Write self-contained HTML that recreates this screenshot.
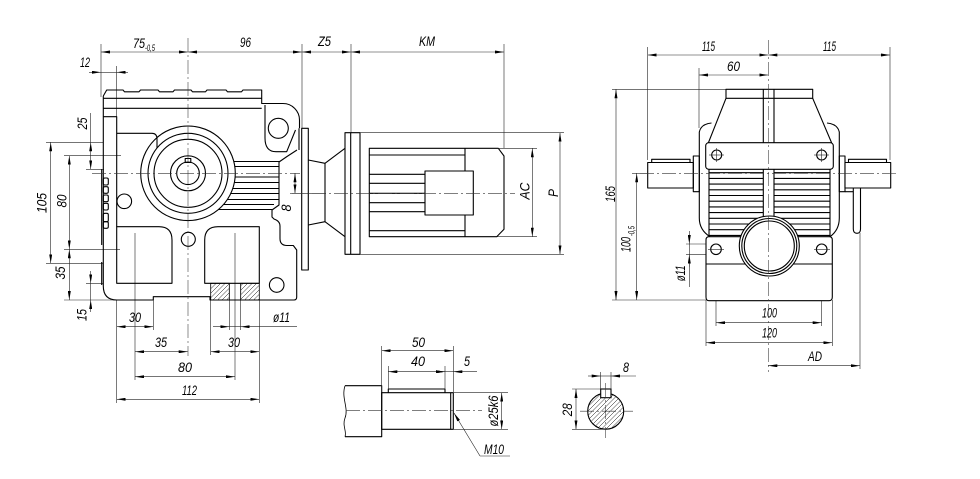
<!DOCTYPE html>
<html><head><meta charset="utf-8">
<style>
html,body{margin:0;padding:0;background:#fff;}
svg{display:block;}
.m{stroke:#000;stroke-width:1.1;fill:none;stroke-linejoin:round}
.wf{fill:#fff}
.t{stroke:#222;stroke-width:0.6;fill:none}
.c{stroke:#333;stroke-width:0.55;fill:none;stroke-dasharray:14 3 2 3}
.d{stroke:#222;stroke-width:0.6;fill:none;marker-start:url(#a);marker-end:url(#a)}
.e{stroke:#222;stroke-width:0.6;fill:none;marker-end:url(#a)}
text{font-family:"Liberation Sans",sans-serif;font-style:italic;font-size:14px;fill:#000}
.s{font-size:9px}
</style></head>
<body>
<svg width="980" height="479" viewBox="0 0 980 479" xmlns="http://www.w3.org/2000/svg">
<defs>
<marker id="a" viewBox="0 0 9 3" refX="9" refY="1.5" markerWidth="9" markerHeight="3" markerUnits="userSpaceOnUse" orient="auto-start-reverse"><path d="M0,0 L9,1.5 L0,3z" fill="#000"/></marker>
<pattern id="h" patternUnits="userSpaceOnUse" width="4.5" height="4.5"><path d="M-1,5.5 L5.5,-1" stroke="#000" stroke-width="0.5"/></pattern>
</defs>

<!-- ================= LEFT VIEW ================= -->
<!-- top dimension chain -->
<line class="d" x1="101" y1="52" x2="188" y2="52"/>
<line class="d" x1="188" y1="52" x2="302" y2="52"/>
<line class="d" x1="302" y1="52" x2="351" y2="52"/>
<line class="d" x1="351" y1="52" x2="504" y2="52"/>
<g class="t">
<line x1="101" y1="44" x2="101" y2="97"/>
<line x1="302" y1="44" x2="302" y2="128"/>
<line x1="351" y1="44" x2="351" y2="133"/>
<line x1="504" y1="44" x2="504" y2="148"/>
<line x1="116.7" y1="66" x2="116.7" y2="116.7"/>
<line x1="101" y1="72.3" x2="116.7" y2="72.3"/>
</g>
<line class="e" x1="89" y1="72.3" x2="101" y2="72.3"/>
<line class="e" x1="128" y1="72.3" x2="116.7" y2="72.3"/>
<text x="133" y="48" textLength="12" lengthAdjust="spacingAndGlyphs">75</text>
<text class="s" x="145" y="51" textLength="10" lengthAdjust="spacingAndGlyphs">-0,5</text>
<text x="240" y="47" textLength="11" lengthAdjust="spacingAndGlyphs">96</text>
<text x="318" y="46" textLength="13" lengthAdjust="spacingAndGlyphs">Z5</text>
<text x="419" y="46" textLength="16" lengthAdjust="spacingAndGlyphs">KM</text>
<text x="80" y="67" textLength="10" lengthAdjust="spacingAndGlyphs">12</text>

<!-- left vertical dims -->
<g class="t">
<line x1="46" y1="142.3" x2="103" y2="142.3"/>
<line x1="64" y1="155.7" x2="121" y2="155.7"/>
<line x1="86" y1="169.3" x2="104" y2="169.3"/>
<line x1="64" y1="249.3" x2="120" y2="249.3"/>
<line x1="46" y1="263.3" x2="103" y2="263.3"/>
<line x1="86" y1="283.3" x2="103" y2="283.3"/>
<line x1="64" y1="300" x2="117" y2="300"/>
<line x1="90.7" y1="113" x2="90.7" y2="142.3"/>
<line x1="90.7" y1="283.3" x2="90.7" y2="300"/>
</g>
<line class="d" x1="50.7" y1="142.3" x2="50.7" y2="263.3"/>
<line class="d" x1="69.3" y1="155.7" x2="69.3" y2="249.3"/>
<line class="d" x1="69.3" y1="249.3" x2="69.3" y2="300"/>
<line class="d" x1="90.7" y1="142.3" x2="90.7" y2="169.3"/>
<line class="e" x1="90.7" y1="271" x2="90.7" y2="283.3"/>
<line class="e" x1="90.7" y1="312" x2="90.7" y2="300"/>
<text transform="translate(46.5,203) rotate(-90)" text-anchor="middle" textLength="20" lengthAdjust="spacingAndGlyphs">105</text>
<text transform="translate(66.5,201) rotate(-90)" text-anchor="middle" textLength="13" lengthAdjust="spacingAndGlyphs">80</text>
<text transform="translate(87,123.5) rotate(-90)" text-anchor="middle" textLength="12" lengthAdjust="spacingAndGlyphs">25</text>
<text transform="translate(65,273) rotate(-90)" text-anchor="middle" textLength="13" lengthAdjust="spacingAndGlyphs">35</text>
<text transform="translate(86.3,315) rotate(-90)" text-anchor="middle" textLength="12" lengthAdjust="spacingAndGlyphs">15</text>

<!-- bottom dims -->
<g class="t">
<line x1="116.7" y1="300" x2="116.7" y2="403"/>
<line x1="135" y1="233" x2="135" y2="380"/>
<line x1="153.3" y1="300" x2="153.3" y2="330"/>
<line x1="210.7" y1="300" x2="210.7" y2="355"/>
<line x1="229.3" y1="283" x2="229.3" y2="330"/>
<line x1="240.7" y1="283" x2="240.7" y2="330"/>
<line x1="235" y1="233" x2="235" y2="380"/>
<line x1="259.3" y1="300" x2="259.3" y2="403"/>
<line x1="229.3" y1="326.7" x2="240.7" y2="326.7"/>
</g>
<line class="d" x1="116.7" y1="326.7" x2="153.3" y2="326.7"/>
<line class="d" x1="135" y1="351.7" x2="187.7" y2="351.7"/>
<line class="d" x1="210.7" y1="351.7" x2="259.3" y2="351.7"/>
<line class="d" x1="135" y1="376.7" x2="235" y2="376.7"/>
<line class="d" x1="116.7" y1="399.3" x2="259.3" y2="399.3"/>
<line class="e" x1="213" y1="326.7" x2="229.3" y2="326.7"/>
<line class="e" x1="297" y1="326.7" x2="240.7" y2="326.7"/>
<text x="129" y="322" textLength="12" lengthAdjust="spacingAndGlyphs">30</text>
<text x="155" y="347" textLength="12" lengthAdjust="spacingAndGlyphs">35</text>
<text x="228" y="347" textLength="12" lengthAdjust="spacingAndGlyphs">30</text>
<text x="178" y="372" textLength="14" lengthAdjust="spacingAndGlyphs">80</text>
<text x="182" y="395" textLength="15" lengthAdjust="spacingAndGlyphs">112</text>
<text x="273" y="322" textLength="17" lengthAdjust="spacingAndGlyphs">ø11</text>

<!-- body -->
<g class="m">
<path d="M103.3,96 L106.7,90 H123 L124.5,91.8 H139 L140.5,90 H158 L159.5,91.8 H173 L174.5,90 H191 L192.5,91.8 H205.5 L207,90 H226 L227.5,91.8 H241.5 L243,90 H261.7 V103.5 H283 A16.5,16.5 0 0 1 299.5,120 V128.3"/>
<path d="M103.3,96 V286 Q103.3,300 117,300 H153.3 V296.7 H210 V300 H294 Q296.7,300 296.7,297 V250 L293.3,245.5 H287 Q280,245.5 280,238.5 V226 Q280,221 274,219 L272,217 V210 L279,205 V162 L287,156.5 L297,150"/>
<path d="M103.3,98.3 H261.7 M103.3,108.3 H261.7"/>
<path d="M103.3,116.7 H116.7 V226.7"/>
<path d="M116.7,133.3 H152 Q157,133.3 157,139 V148"/>
<path d="M265,105 V138 Q265,151.7 276,151.7 H286.7 L295.5,130"/>
<path d="M299,128.3 V150"/>
<circle cx="278.3" cy="128.3" r="10"/>
<rect x="301.7" y="128.3" width="6.6" height="141.7"/>
<line x1="101.7" y1="169.3" x2="101.7" y2="245"/>
<line x1="101.7" y1="262" x2="101.7" y2="285"/>
<rect x="103.3" y="178" width="5" height="7" rx="1.5"/>
<rect x="103.3" y="186.7" width="5" height="6.6" rx="1.5"/>
<rect x="103.3" y="195" width="5" height="6.7" rx="1.5"/>
<rect x="103.3" y="203.3" width="5" height="6.7" rx="1.5"/>
<rect x="103.3" y="213.3" width="5" height="8.4" rx="1.5"/>
<rect x="103.3" y="221.7" width="5" height="6.6" rx="1.5"/>
<!-- fins -->
<path d="M233.8,161.5 H280 M234.8,166.5 H279 M235.2,177 H279 M234.4,182.5 H279 M232.8,188.5 H279 M230.8,193.5 H279 M227.4,199.5 H279 M223.5,204.5 H274 M218.4,209.5 H272"/>
<!-- gear circles -->
<circle cx="188" cy="173.3" r="47.3"/>
<circle cx="188" cy="173.3" r="40"/>
<circle cx="188" cy="173.3" r="34"/>
<circle cx="188" cy="173.3" r="17.5"/>
<circle cx="188" cy="173.3" r="11.3"/>
<rect x="185.2" y="158.5" width="5.6" height="4"/>
<circle cx="124.3" cy="201.3" r="7.3"/>
<circle cx="188.3" cy="239.3" r="7"/>
<circle cx="276.7" cy="285" r="7.3"/>
<!-- pockets -->
<path d="M116.7,226.7 H159 Q172,226.7 172,240 V283.3 H116.7 Z"/>
<path d="M218,226.7 H259.3 V283.3 H204.7 V240 Q204.7,226.7 218,226.7 Z"/>
</g>
<rect x="210.7" y="283.3" width="18.6" height="16.7" fill="url(#h)" stroke="#000" stroke-width="0.8"/>
<rect x="240.7" y="283.3" width="18.6" height="16.7" fill="url(#h)" stroke="#000" stroke-width="0.8"/>
<line class="c" x1="188" y1="38" x2="188" y2="356"/>
<line class="c" x1="92" y1="173.3" x2="300" y2="173.3"/>

<!-- 8 offset dim -->
<line class="d" x1="295" y1="173.3" x2="295" y2="193.3"/>
<line class="t" x1="292" y1="193.3" x2="326" y2="193.3"/>
<text transform="translate(290.8,208) rotate(-90)" text-anchor="middle" textLength="7" lengthAdjust="spacingAndGlyphs">8</text>

<!-- neck -->
<g class="m">
<path d="M308.3,160 L325,163.3 L345,148.3"/>
<path d="M308.3,225 L325,221.7 L345,236.7"/>
<line x1="325" y1="163.3" x2="325" y2="221.7"/>
<rect x="345" y="132.7" width="15" height="121.6"/>
<line x1="350.7" y1="132.7" x2="350.7" y2="254.3"/>
<!-- motor -->
<path d="M369.3,148.3 H498.3 L504,156 V229.3 L496.7,236.7 H369.3 Z"/>
<path d="M369.3,155 H465 M369.3,230.7 H465 M465,148.3 V171 M465,215 V236.7"/>
<rect x="425" y="171" width="48.3" height="44"/>
<path d="M369.3,174.3 H425 M369.3,183.3 H425 M369.3,193.3 H425 M369.3,202.7 H425 M369.3,211.7 H425"/>
</g>
<line class="c" x1="290" y1="193.3" x2="515" y2="193.3"/>
<g class="t">
<line x1="360" y1="132.7" x2="564" y2="132.7"/>
<line x1="360" y1="254.3" x2="564" y2="254.3"/>
<line x1="498" y1="148.3" x2="537" y2="148.3"/>
<line x1="497" y1="236.7" x2="537" y2="236.7"/>
</g>
<line class="d" x1="560" y1="132.7" x2="560" y2="254.3"/>
<line class="d" x1="532.3" y1="148.3" x2="532.3" y2="236.7"/>
<text transform="translate(529.7,191) rotate(-90)" text-anchor="middle" textLength="17" lengthAdjust="spacingAndGlyphs">AC</text>
<text transform="translate(558,193) rotate(-90)" text-anchor="middle" textLength="8" lengthAdjust="spacingAndGlyphs">P</text>

<!-- ================= RIGHT VIEW ================= -->
<line class="d" x1="647.7" y1="55" x2="768.3" y2="55"/>
<line class="d" x1="768.3" y1="55" x2="890" y2="55"/>
<line class="d" x1="699" y1="75" x2="768.3" y2="75"/>
<g class="t">
<line x1="647.7" y1="47" x2="647.7" y2="160"/>
<line x1="699" y1="68" x2="699" y2="128"/>
<line x1="890" y1="47" x2="890" y2="160"/>
<line x1="612" y1="89.3" x2="726" y2="89.3"/>
<line x1="612" y1="300" x2="706" y2="300"/>
<line x1="632" y1="173.3" x2="648" y2="173.3"/>
<line x1="686" y1="244" x2="716" y2="244"/>
<line x1="686" y1="254.6" x2="716" y2="254.6"/>
<line x1="689.3" y1="244" x2="689.3" y2="287"/>
<line x1="716" y1="250" x2="716" y2="326"/>
<line x1="821.7" y1="250" x2="821.7" y2="326"/>
<line x1="706" y1="300" x2="706" y2="346"/>
<line x1="832.3" y1="300" x2="832.3" y2="346"/>
<line x1="860" y1="233" x2="860" y2="369"/>
</g>
<line class="d" x1="616" y1="89.3" x2="616" y2="300"/>
<line class="d" x1="636.7" y1="173.3" x2="636.7" y2="300"/>
<line class="e" x1="689.3" y1="231" x2="689.3" y2="244"/>
<line class="e" x1="689.3" y1="267" x2="689.3" y2="254.6"/>
<line class="d" x1="716" y1="322.7" x2="821.7" y2="322.7"/>
<line class="d" x1="706" y1="342.7" x2="832.3" y2="342.7"/>
<line class="d" x1="768.3" y1="365.7" x2="860" y2="365.7"/>
<text x="702" y="51" textLength="13" lengthAdjust="spacingAndGlyphs">115</text>
<text x="823" y="51" textLength="13" lengthAdjust="spacingAndGlyphs">115</text>
<text x="727" y="71" textLength="13" lengthAdjust="spacingAndGlyphs">60</text>
<text transform="translate(615,194) rotate(-90)" text-anchor="middle" textLength="16" lengthAdjust="spacingAndGlyphs">165</text>
<text transform="translate(630.5,252) rotate(-90)" textLength="15" lengthAdjust="spacingAndGlyphs">100</text>
<text class="s" transform="translate(634.5,236) rotate(-90)" textLength="10" lengthAdjust="spacingAndGlyphs">-0,5</text>
<text transform="translate(685,273.3) rotate(-90)" text-anchor="middle" textLength="16" lengthAdjust="spacingAndGlyphs">ø11</text>
<text x="762" y="317.5" textLength="15" lengthAdjust="spacingAndGlyphs">100</text>
<text x="762" y="337.5" textLength="15" lengthAdjust="spacingAndGlyphs">120</text>
<text x="808" y="361" textLength="14" lengthAdjust="spacingAndGlyphs">AD</text>

<g class="m">
<!-- fins -->
<path d="M709,172.7 H763.3 M709,178.4 H763.3 M709,184.1 H763.3 M709,189.8 H763.3 M709,195.5 H763.3 M709,201.2 H763.3 M709,206.9 H763.3 M709,212.6 H763.3 M709,218.3 H763.3 M709,224 H763.3 M709,229.7 H763.3 M709,235.4 H763.3"/>
<path d="M774,172.7 H830 M774,178.4 H830 M774,184.1 H830 M774,189.8 H830 M774,195.5 H830 M774,201.2 H830 M774,206.9 H830 M774,212.6 H830 M774,218.3 H830 M774,224 H830 M774,229.7 H830 M774,235.4 H830"/>
<path d="M709,169.3 V236.7 M830,169.3 V236.7"/>
<path d="M763.3,89.3 V236 M774,89.3 V236"/>
<!-- cap & trapezoid -->
<rect x="726" y="89.3" width="86.7" height="9"/>
<path d="M726,98.3 L708.3,143 M812.7,98.3 L831.7,143"/>
<path d="M711.5,123 Q701,124 699.3,132 V218 Q699.3,230 710,236.7"/>
<path d="M827,123 Q837.5,124 839.3,132 V218 Q839.3,230 830,236.7"/>
<!-- band -->
<rect class="wf" x="705.7" y="142.7" width="127.6" height="26.6" rx="3"/>
<circle cx="716.7" cy="155" r="5"/>
<circle cx="821.7" cy="155" r="5"/>
<!-- shafts -->
<rect x="651.7" y="159.3" width="38.3" height="3.2"/>
<rect class="wf" x="647.7" y="162.5" width="45.6" height="25.5"/>
<rect x="693.3" y="156" width="6" height="35.7"/>
<rect x="839.3" y="156" width="5.7" height="35.7"/>
<rect x="848.5" y="159.3" width="38" height="3.2"/>
<rect class="wf" x="845" y="162.5" width="45.7" height="25.5"/>
<path d="M853.3,188 V229 Q853.3,233.3 857,233.3 Q860.5,233.3 860.5,229 V188"/>
<path d="M845,191.7 H853.3"/>
<!-- foot -->
<path class="wf" d="M709,236.7 H829.3 Q832.3,236.7 832.3,240 V297 Q832.3,300.7 829,300.7 H709 Q706,300.7 706,297 V240 Q706,236.7 709,236.7 Z"/>
<line x1="706" y1="264" x2="832.3" y2="264"/>
<circle cx="716" cy="249.3" r="5.3"/>
<circle cx="821.7" cy="249.3" r="5.3"/>
<!-- hollow shaft -->
<circle class="wf" cx="769.3" cy="246" r="30"/>
<circle cx="769.3" cy="246" r="27.5"/>
<circle cx="769.3" cy="246" r="25"/>
</g>
<line class="c" x1="768.3" y1="40" x2="768.3" y2="372"/>
<line class="c" x1="640" y1="173.3" x2="898" y2="173.3"/>
<g class="t">
<line x1="709" y1="155" x2="724" y2="155"/><line x1="716.7" y1="148" x2="716.7" y2="162"/>
<line x1="814" y1="155" x2="829" y2="155"/><line x1="821.7" y1="148" x2="821.7" y2="162"/>
<line x1="708" y1="249.3" x2="724" y2="249.3"/>
<line x1="814" y1="249.3" x2="830" y2="249.3"/>
</g>

<!-- ================= SHAFT DETAIL ================= -->
<g class="m">
<path d="M345,385.7 H381.7 V436.7 H345"/>
<path d="M345,385.7 C341,398 349,408 345,418 C342,426 347,431 345,436.7" stroke-width="0.8"/>
<rect x="381.7" y="392.7" width="71.6" height="36.6"/>
<path d="M388.3,392.7 V389 H445 V392.7"/>
<line x1="450.7" y1="392.7" x2="450.7" y2="429.3"/>
</g>
<line class="c" x1="346" y1="410.7" x2="482" y2="410.7"/>
<g class="t">
<line x1="381.7" y1="346" x2="381.7" y2="392"/>
<line x1="453.3" y1="346" x2="453.3" y2="392"/>
<line x1="388.3" y1="366" x2="388.3" y2="389"/>
<line x1="445" y1="366" x2="445" y2="389"/>
<line x1="453" y1="392.7" x2="508" y2="392.7"/>
<line x1="453" y1="429.3" x2="508" y2="429.3"/>
<line x1="445" y1="371.7" x2="453.3" y2="371.7"/>
<path d="M480,456 H510"/>
</g>
<line class="d" x1="381.7" y1="350.7" x2="453.3" y2="350.7"/>
<line class="d" x1="388.3" y1="371.7" x2="445" y2="371.7"/>
<line class="e" x1="477" y1="371.7" x2="453.3" y2="371.7"/>
<line class="e" x1="436" y1="371.7" x2="445" y2="371.7"/>
<line class="d" x1="501.7" y1="392.7" x2="501.7" y2="429.3"/>
<line class="e" x1="480" y1="456" x2="454" y2="413"/>
<text x="412" y="347" textLength="13" lengthAdjust="spacingAndGlyphs">50</text>
<text x="411" y="366" textLength="14" lengthAdjust="spacingAndGlyphs">40</text>
<text x="464" y="366" textLength="6" lengthAdjust="spacingAndGlyphs">5</text>
<text transform="translate(498,411) rotate(-90)" text-anchor="middle" textLength="31" lengthAdjust="spacingAndGlyphs">ø25k6</text>
<text x="484" y="454" textLength="20" lengthAdjust="spacingAndGlyphs">M10</text>

<!-- ================= KEY SECTION ================= -->
<circle cx="605.7" cy="411.2" r="18" fill="url(#h)" stroke="#000" stroke-width="1.1"/>
<rect x="600.7" y="389" width="10.3" height="8.7" fill="#fff" stroke="#000" stroke-width="1.1"/>
<line class="c" x1="605.7" y1="383" x2="605.7" y2="438"/>
<line class="c" x1="580" y1="411.2" x2="633" y2="411.2"/>
<g class="t">
<line x1="600.7" y1="372" x2="600.7" y2="389"/>
<line x1="611" y1="372" x2="611" y2="389"/>
<line x1="600.7" y1="376" x2="611" y2="376"/>
<line x1="572" y1="389" x2="601" y2="389"/>
<line x1="572" y1="429.3" x2="606" y2="429.3"/>
</g>
<line class="e" x1="588" y1="376" x2="600.7" y2="376"/>
<line class="e" x1="636" y1="376" x2="611" y2="376"/>
<line class="d" x1="576" y1="389" x2="576" y2="429.3"/>
<text x="623" y="372" textLength="6" lengthAdjust="spacingAndGlyphs">8</text>
<text transform="translate(572,409.7) rotate(-90)" text-anchor="middle" textLength="13" lengthAdjust="spacingAndGlyphs">28</text>
</svg>
</body></html>
